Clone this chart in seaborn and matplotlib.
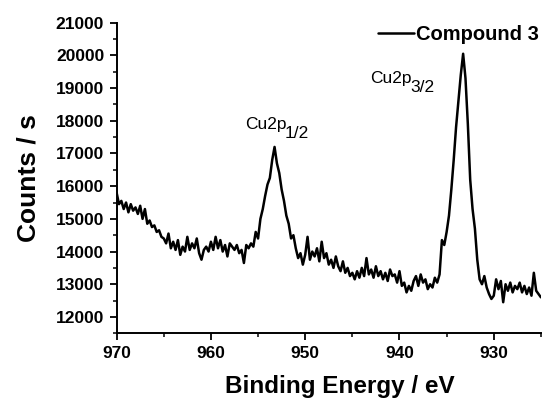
import numpy as np
import pandas as pd
import matplotlib
matplotlib.use("Agg")
import matplotlib.pyplot as plt
import seaborn as sns
from matplotlib.ticker import MultipleLocator

# ---- data (0.25 eV steps, 970 -> 925 eV) ----
counts = [
    15800, 15450, 15550, 15300,  # 970
    15500, 15200, 15450, 15250,  # 969
    15350, 15150, 15400, 15000,  # 968
    15300, 14850, 14950, 14750,  # 967
    14800, 14600, 14650, 14450,  # 966
    14400, 14250, 14550, 14100,  # 965
    14300, 14050, 14350, 13900,  # 964
    14150, 14000, 14450, 14050,  # 963
    14250, 14100, 14400, 13950,  # 962
    13750, 14050, 14150, 14000,  # 961
    14300, 14050, 14450, 14100,  # 960
    14350, 14000, 14200, 13850,  # 959
    14250, 14150, 14050, 14200,  # 958
    13950, 14050, 13650, 14200,  # 957
    14100, 14250, 14150, 14600,  # 956
    14400, 15000, 15300, 15700,  # 955
    16050, 16250, 16800, 17200,  # 954
    16700, 16400, 15900, 15550,  # 953
    15100, 14850, 14400, 14500,  # 952
    14100, 13800, 13950, 13600,  # 951
    13900, 14450, 13750, 14000,  # 950
    13850, 14100, 13700, 14300,  # 949
    13800, 13950, 13600, 13750,  # 948
    13500, 13850, 13550, 13400,  # 947
    13700, 13350, 13500, 13250,  # 946
    13350, 13150, 13400, 13200,  # 945
    13500, 13250, 13800, 13300,  # 944
    13450, 13200, 13550, 13250,  # 943
    13400, 13150, 13350, 13100,  # 942
    13450, 13250, 13300, 13050,  # 941
    13400, 12950, 13050, 12750,  # 940
    12950, 12800, 13100, 13250,  # 939
    12950, 13300, 13050, 13150,  # 938
    12850, 13000, 12900, 13200,  # 937
    13050, 13300, 14350, 14200,  # 936
    14600, 15100, 15900, 16800,  # 935
    17800, 18600, 19400, 20050,  # 934
    19300, 17900, 16200, 15300,  # 933
    14700, 13750, 13150, 13000,  # 932
    13250, 12900, 12700, 12550,  # 931
    12650, 13150, 12850, 13100,  # 930
    12450, 13000, 12800, 13050,  # 929
    12750, 12950, 12850, 13050,  # 928
    12750, 12950, 12700, 12900,  # 927
    12650, 13350, 12800, 12700,  # 926
    12600,                       # 925
]
energy = np.linspace(970, 925, len(counts))

series_name = "Compound 3"
peak_labels = ["Cu2p", "Cu2p"]
peak_subs = ["1/2", "3/2"]
peak_pos = [(956.4, 17760), (943.1, 19150)]

x_ticks = [970, 960, 950, 940, 930]
y_ticks = [12000, 13000, 14000, 15000, 16000, 17000, 18000, 19000, 20000, 21000]

df = pd.DataFrame({"Binding Energy / eV": energy, "Counts / s": counts})

sns.set_theme(style="ticks")
plt.rcParams["font.family"] = ["Liberation Sans", "DejaVu Sans"]
plt.rcParams["font.weight"] = "bold"
plt.rcParams["text.color"] = "black"
plt.rcParams["axes.labelcolor"] = "black"

fig = plt.figure(figsize=(5.45, 3.98), dpi=100)
ax = fig.add_axes([0.214, 0.1626, 0.7785, 0.7804])

sns.lineplot(data=df, x="Binding Energy / eV", y="Counts / s", color="black",
             linewidth=1.8, label=series_name, ax=ax, legend=False)

ax.set_xlim(970, 925)
ax.set_ylim(11500, 21000)
ax.set_xticks(x_ticks)
ax.set_yticks(y_ticks)
ax.xaxis.set_minor_locator(MultipleLocator(5))
ax.yaxis.set_minor_locator(MultipleLocator(500))
ax.tick_params(which="major", direction="out", length=5, width=1.3,
               labelsize=12.5, color="black", labelcolor="black", pad=4)
ax.tick_params(which="minor", direction="out", length=3, width=1.1, color="black")
for lab in ax.get_xticklabels() + ax.get_yticklabels():
    lab.set_fontweight("bold")

sns.despine(ax=ax)
for side in ["left", "bottom"]:
    ax.spines[side].set_linewidth(1.4)
    ax.spines[side].set_color("black")

ax.set_xlabel("Binding Energy / eV", fontsize=17.5, fontweight="bold", labelpad=10)
ax.xaxis.label.set_x(0.525)
ax.set_ylabel("Counts / s", fontsize=19, fontweight="bold", labelpad=11)

for (px, py), lab, sub in zip(peak_pos, peak_labels, peak_subs):
    t = ax.text(px, py, lab, fontsize=12.5, fontweight="normal", ha="left", va="baseline")
    ax.annotate(sub, xy=(1, 0), xycoords=t, xytext=(-1.0, -4.5), textcoords="offset points",
                fontsize=12.5, fontweight="normal", ha="left", va="baseline")

leg = fig.legend(handles=ax.get_lines()[:1], labels=[series_name], loc="center right",
                 bbox_to_anchor=(539 / 545, 1 - 35 / 398), frameon=False,
                 handlelength=1.8, handletextpad=0.1, borderpad=0, borderaxespad=0,
                 prop={"weight": "bold", "size": 14.5})

fig.savefig("out.png", dpi=100)
